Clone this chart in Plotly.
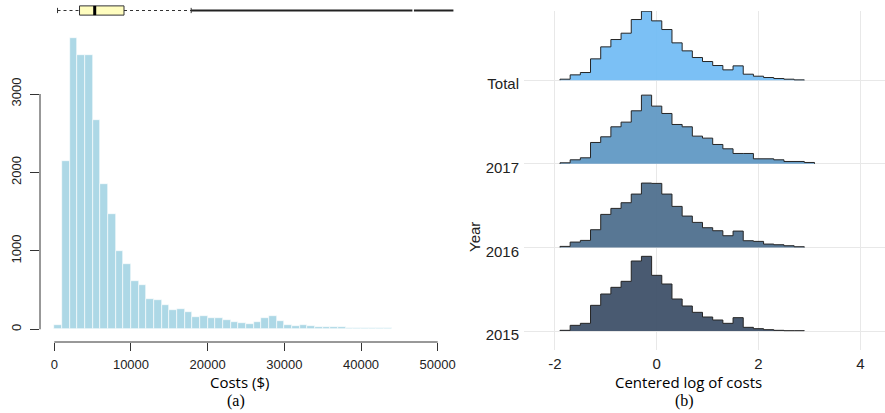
import plotly.graph_objects as go

# ---------------- Data: panel (a) ----------------
cost_bin_width = 1000
cost_counts = [50, 2145, 3718, 3491, 3500, 2670, 1855, 1474, 996, 833,
               611, 564, 389, 376, 308, 244, 260, 218, 158, 175,
               145, 145, 115, 90, 77, 64, 90, 145, 175, 111,
               60, 38, 51, 38, 26, 26, 26, 26, 13, 13,
               13, 13, 13, 13, 10, 10, 10, 10, 10, 10,
               10, 10]
cost_bin_starts = [i * cost_bin_width for i in range(len(cost_counts))]
cost_xticks = [0, 10000, 20000, 30000, 40000, 50000]
cost_yticks = [0, 1000, 2000, 3000]

# boxplot summary (min whisker, Q1, median, Q3, max whisker) and outlier spans
box_lower = 420
box_q1 = 3290
box_median = 5270
box_q3 = 9090
box_upper = 17850
outlier_spans = [(17850, 46700), (46900, 52050)]

# ---------------- Data: panel (b) ----------------
ridge_start = -1.9
ridge_binwidth = 0.2
ridge_labels = ["2015", "2016", "2017", "Total"]
h_total = [3, 16, 23, 64, 100, 122, 141, 182, 207, 178, 152, 112, 88, 68,
           56, 44, 31, 43, 18, 12, 8, 5, 3, 1]
h_2017 = [3, 12, 18, 64, 81, 111, 125, 159, 206, 173, 151, 118, 111, 83,
          77, 58, 45, 31, 31, 15, 15, 12, 7, 7, 4]
h_2016 = [3, 16, 21, 53, 99, 117, 134, 160, 193, 192, 160, 123, 94, 75,
          59, 50, 35, 49, 20, 18, 10, 8, 5, 2]
h_2015 = [2, 17, 23, 77, 111, 131, 149, 210, 224, 167, 141, 96, 75, 56,
          42, 33, 23, 40, 11, 7, 4, 2, 1, 1]
ridge_heights = [h_2015, h_2016, h_2017, h_total]
ridge_colors = ["#40526A", "#50708F", "#6299C5", "#74BDF5"]
ridge_xticks = [-2, 0, 2, 4]
ridge_scale = 1 / 250.8  # height units -> row spacing

fig = go.Figure()

# ---- panel (a): histogram ----
fig.add_trace(go.Bar(
    x=[s + cost_bin_width / 2 for s in cost_bin_starts], y=cost_counts,
    width=cost_bin_width, marker=dict(color="#ADD8E6", line=dict(color="white", width=0.6)),
    xaxis="x", yaxis="y", showlegend=False, hoverinfo="skip"))

# ---- panel (a): boxplot on top ----
bh = 0.44
dash_kw = dict(color="#333333", width=1, dash="3px,3px")
fig.add_trace(go.Scatter(x=[box_lower, box_q1], y=[0, 0], mode="lines", line=dash_kw,
                         xaxis="x", yaxis="y3", showlegend=False, hoverinfo="skip"))
fig.add_trace(go.Scatter(x=[box_q3, box_upper], y=[0, 0], mode="lines", line=dash_kw,
                         xaxis="x", yaxis="y3", showlegend=False, hoverinfo="skip"))
for xv in [box_lower, box_upper]:
    fig.add_trace(go.Scatter(x=[xv, xv], y=[-0.25, 0.25], mode="lines",
                             line=dict(color="#333333", width=1),
                             xaxis="x", yaxis="y3", showlegend=False, hoverinfo="skip"))
fig.add_trace(go.Scatter(x=[box_q1, box_q3, box_q3, box_q1, box_q1], y=[-bh, -bh, bh, bh, -bh],
                         mode="lines", fill="toself", fillcolor="#FFFDBF",
                         line=dict(color="#333333", width=1),
                         xaxis="x", yaxis="y3", showlegend=False, hoverinfo="skip"))
fig.add_trace(go.Scatter(x=[box_median, box_median], y=[-bh, bh], mode="lines",
                         line=dict(color="black", width=3),
                         xaxis="x", yaxis="y3", showlegend=False, hoverinfo="skip"))
for a, b in outlier_spans:
    fig.add_trace(go.Scatter(x=[a, b], y=[0, 0], mode="lines",
                             line=dict(color="#222222", width=2),
                             xaxis="x", yaxis="y3", showlegend=False, hoverinfo="skip"))

# ---- panel (b): ridgeline histograms ----
for row, (heights, col) in enumerate(zip(ridge_heights, ridge_colors)):
    xs, ys = [ridge_start], [row]
    for i, h in enumerate(heights):
        e0 = ridge_start + i * ridge_binwidth
        e1 = e0 + ridge_binwidth
        xs += [e0, e1]
        ys += [row + h * ridge_scale, row + h * ridge_scale]
    xs.append(ridge_start + len(heights) * ridge_binwidth)
    ys.append(row)
    fig.add_trace(go.Scatter(x=xs, y=ys, mode="lines", fill="toself", fillcolor=col,
                             opacity=0.95, line=dict(color="#1a1a1a", width=1),
                             xaxis="x2", yaxis="y2", showlegend=False, hoverinfo="skip"))

W, H = 885, 413
def px_x(p):
    return p / W
def px_y(p):
    return 1 - p / H

# left panel scales
ax_x0 = 54.3
ax_sx = 383.4 / 50000
ax_y0 = 329.3
ax_sy = 235.3 / 3000
left_l, left_r, left_b, left_t = 40, 455, 342, 30

# right panel scales
bx0 = 656.7
bsx = 50.9
by0 = 331
bsy = 83.6
right_l, right_r, right_b, right_t = 524, 885, 350, 11

tickfont_a = dict(family="Liberation Sans, Arial", size=13, color="#222222")
tickfont_b = dict(family="Liberation Sans, Arial", size=15, color="#222222")

fig.update_layout(
    width=W, height=H, margin=dict(l=0, r=0, t=0, b=0),
    paper_bgcolor="white", plot_bgcolor="rgba(0,0,0,0)",
    bargap=0, showlegend=False,
    xaxis=dict(domain=[px_x(left_l), px_x(left_r)],
               range=[(left_l - ax_x0) / ax_sx, (left_r - ax_x0) / ax_sx],
               tickvals=cost_xticks, ticktext=[str(v) for v in cost_xticks],
               ticks="outside", ticklen=8, tickcolor="#333333", tickwidth=1,
               showgrid=False, zeroline=False, showline=False,
               tickfont=tickfont_a, anchor="y", ticklabelstandoff=2),
    yaxis=dict(domain=[px_y(left_b), px_y(left_t)],
               range=[(ax_y0 - left_b) / ax_sy, (ax_y0 - left_t) / ax_sy],
               tickvals=cost_yticks, ticktext=[str(v) for v in cost_yticks],
               ticks="outside", ticklen=9, tickcolor="#333333", tickwidth=1,
               tickangle=-90, showgrid=False, zeroline=False, showline=False,
               tickfont=tickfont_a, anchor="x", ticklabelstandoff=4),
    yaxis3=dict(domain=[px_y(21), 1], range=[-1, 1], visible=False, anchor="x"),
    xaxis2=dict(domain=[px_x(right_l), px_x(right_r)],
                range=[(right_l - bx0) / bsx, (right_r - bx0) / bsx],
                tickvals=ridge_xticks, ticktext=["-2", "0", "2", "4"],
                showgrid=True, gridcolor="#E8E8E8", gridwidth=1,
                zeroline=False, showline=False, ticks="",
                tickfont=tickfont_b, anchor="y2", ticklabelstandoff=3),
    yaxis2=dict(domain=[px_y(right_b), px_y(right_t)],
                range=[(by0 - right_b) / bsy, (by0 - right_t) / bsy],
                tickvals=list(range(len(ridge_labels))), ticktext=ridge_labels,
                showgrid=True, gridcolor="#E8E8E8", gridwidth=1,
                zeroline=False, showline=False, ticks="",
                tickfont=tickfont_b, anchor="x2", ticklabelstandoff=4,
                ticklabelshift=4),
)

# axis lines for panel (a), R style (span the tick range only)
fig.add_shape(type="line", xref="x domain", yref="y", x0=0, x1=0,
              y0=cost_yticks[0], y1=cost_yticks[-1], line=dict(color="#333333", width=1))
fig.add_shape(type="line", xref="x", yref="y domain", x0=cost_xticks[0], x1=cost_xticks[-1],
              y0=0, y1=0, line=dict(color="#333333", width=1))

title_font = dict(family="Open Sans", size=15, color="black")
serif_font = dict(family="Liberation Serif, Times New Roman", size=16, color="black")
fig.add_annotation(text="Costs ($)", x=px_x(239), y=px_y(382), xref="paper", yref="paper",
                   showarrow=False, font=title_font, xanchor="center", yanchor="middle")
fig.add_annotation(text="(a)", x=px_x(236), y=px_y(401), xref="paper", yref="paper",
                   showarrow=False, font=serif_font, xanchor="center", yanchor="middle")
fig.add_annotation(text="Centered log of costs", x=px_x(688), y=px_y(382), xref="paper",
                   yref="paper", showarrow=False, font=title_font,
                   xanchor="center", yanchor="middle")
fig.add_annotation(text="(b)", x=px_x(684), y=px_y(401), xref="paper", yref="paper",
                   showarrow=False, font=serif_font, xanchor="center", yanchor="middle")
fig.add_annotation(text="Year", x=px_x(474), y=px_y(237), xref="paper", yref="paper",
                   showarrow=False, textangle=-90,
                   font=dict(family="Liberation Sans, Arial", size=15, color="#222222"),
                   xanchor="center", yanchor="middle")

fig.write_html("out.html", config={"displayModeBar": False},
               post_script="document.body.style.margin='0';document.body.style.overflow='hidden';")
